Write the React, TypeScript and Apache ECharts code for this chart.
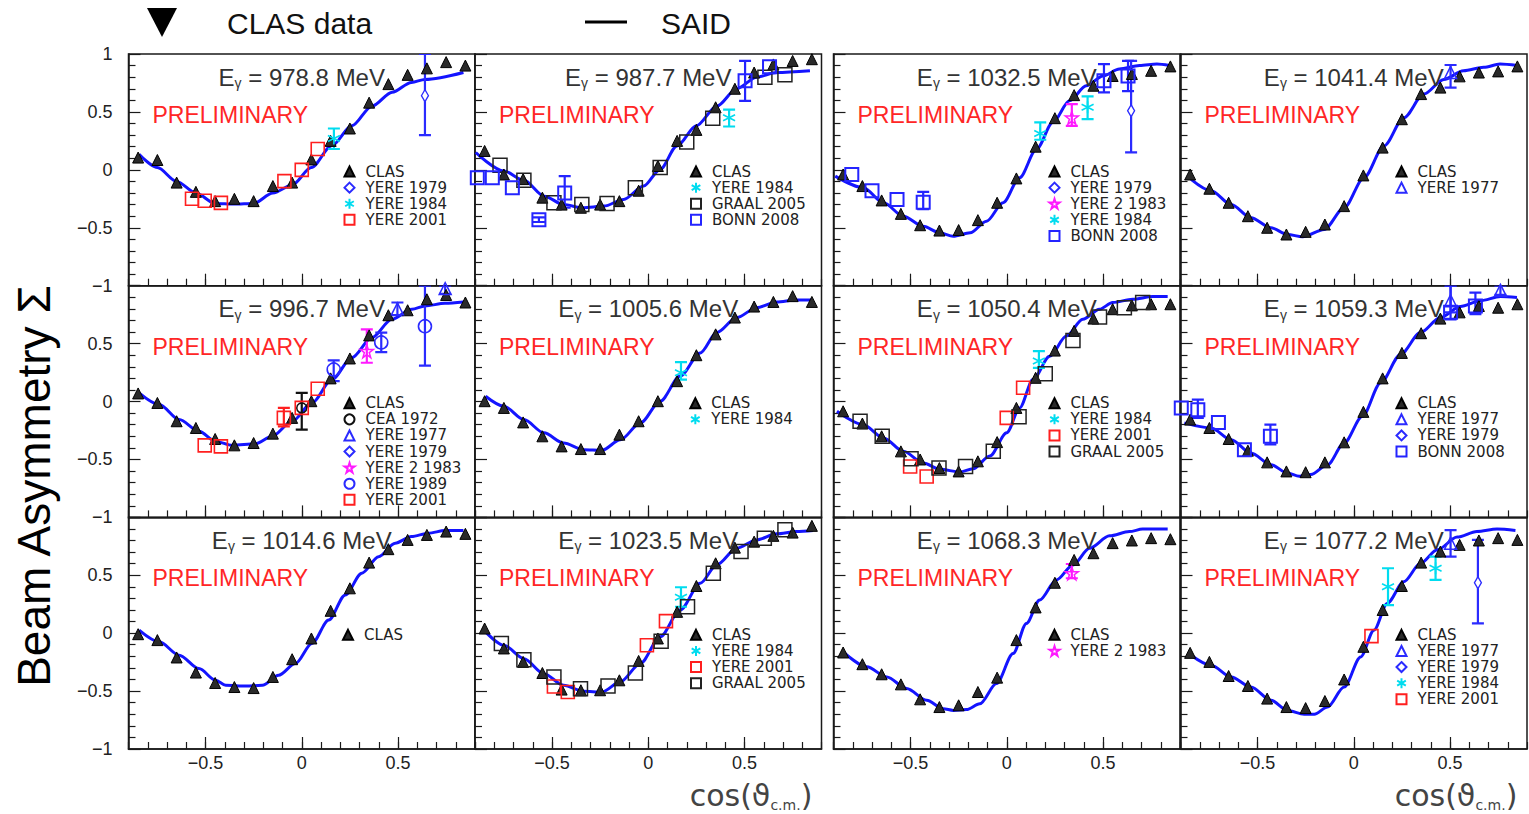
import React, { useEffect, useRef } from 'react';
import * as echarts from 'echarts';

// ---------- DATA ----------
const clasX = [-0.85, -0.75, -0.65, -0.55, -0.45, -0.35, -0.25, -0.15, -0.05, 0.05, 0.15, 0.25, 0.35, 0.45, 0.55, 0.65, 0.75, 0.85];
const majorX = [-0.5, 0, 0.5];

// CLAS beam asymmetry, one value per clasX
const clas978 = [0.106, 0.085, -0.11, -0.19, -0.27, -0.25, -0.27, -0.14, -0.11, 0.09, 0.25, 0.357, 0.58, 0.74, 0.82, 0.876, 0.93, 0.9];
const clas987 = [0.163, -0.04, -0.08, -0.24, -0.3, -0.327, -0.3, -0.27, -0.18, 0.033, 0.25, 0.345, 0.54, 0.7, 0.84, 0.91, 0.94, 0.955];
const clas1032 = [-0.04, -0.14, -0.264, -0.38, -0.478, -0.524, -0.52, -0.434, -0.284, -0.074, 0.2, 0.446, 0.645, 0.726, 0.81, 0.827, 0.855, 0.893];
const clas1041 = [-0.04, -0.163, -0.284, -0.4, -0.5, -0.558, -0.535, -0.472, -0.313, -0.048, 0.192, 0.437, 0.654, 0.71, 0.807, 0.84, 0.85, 0.893];
const clas996 = [0.07, -0.012, -0.17, -0.228, -0.323, -0.378, -0.358, -0.277, -0.141, 0.003, 0.2, 0.372, 0.571, 0.745, 0.788, 0.883, 0.92, 0.855];
const clas1005 = [0.003, -0.055, -0.18, -0.3, -0.387, -0.41, -0.41, -0.286, -0.17, 0.003, 0.176, 0.4, 0.58, 0.725, 0.82, 0.86, 0.91, 0.86];
const clas1050 = [-0.084, -0.19, -0.3, -0.43, -0.5, -0.574, -0.603, -0.516, -0.35, -0.055, 0.205, 0.44, 0.61, 0.716, 0.797, 0.83, 0.84, 0.84];
const clas1059 = [-0.156, -0.228, -0.323, -0.424, -0.525, -0.603, -0.61, -0.525, -0.352, -0.089, 0.2, 0.42, 0.59, 0.716, 0.77, 0.825, 0.81, 0.84];
const clas1014 = [-0.009, -0.06, -0.21, -0.34, -0.43, -0.465, -0.474, -0.378, -0.225, -0.046, 0.193, 0.387, 0.609, 0.725, 0.805, 0.848, 0.877, 0.857];
const clas1023 = [0.04, -0.132, -0.248, -0.344, -0.487, -0.493, -0.493, -0.407, -0.24, -0.046, 0.184, 0.407, 0.603, 0.738, 0.79, 0.84, 0.868, 0.926];
const clas1068 = [-0.167, -0.268, -0.355, -0.442, -0.571, -0.638, -0.623, -0.508, -0.384, -0.06, 0.222, 0.435, 0.632, 0.69, 0.777, 0.8, 0.82, 0.811];
const clas1077 = [-0.17, -0.248, -0.37, -0.456, -0.565, -0.638, -0.647, -0.586, -0.4, -0.118, 0.2, 0.407, 0.609, 0.704, 0.762, 0.8, 0.82, 0.805];

// SAID curves [cos, Sigma]
const said978 = [[-0.845, 0.134], [-0.75, 0.02], [-0.65, -0.1], [-0.55, -0.2], [-0.45, -0.29], [-0.35, -0.295], [-0.25, -0.29], [-0.15, -0.2], [-0.05, -0.13], [0.05, 0.02], [0.157, 0.21], [0.26, 0.38], [0.365, 0.55], [0.47, 0.67], [0.57, 0.755], [0.64, 0.78], [0.84, 0.84]];
const said987 = [[-0.896, 0.15], [-0.75, -0.01], [-0.646, -0.09], [-0.54, -0.227], [-0.44, -0.3], [-0.34, -0.327], [-0.23, -0.313], [-0.128, -0.255], [-0.024, -0.14], [0.062, 0.004], [0.149, 0.206], [0.25, 0.38], [0.356, 0.55], [0.46, 0.7], [0.563, 0.8], [0.666, 0.84], [0.84, 0.855]];
const said1032 = [[-0.891, -0.054], [-0.745, -0.154], [-0.64, -0.284], [-0.537, -0.4], [-0.434, -0.487], [-0.347, -0.544], [-0.278, -0.573], [-0.19, -0.544], [-0.105, -0.443], [-0.019, -0.284], [0.067, -0.068], [0.154, 0.177], [0.24, 0.41], [0.326, 0.596], [0.413, 0.726], [0.5, 0.81], [0.585, 0.87], [0.69, 0.9], [0.78, 0.913], [0.845, 0.9]];
const said1041 = [[-0.845, -0.082], [-0.741, -0.18], [-0.637, -0.3], [-0.534, -0.414], [-0.43, -0.5], [-0.344, -0.558], [-0.266, -0.578], [-0.154, -0.515], [-0.05, -0.327], [0.053, -0.068], [0.157, 0.206], [0.26, 0.45], [0.364, 0.654], [0.468, 0.78], [0.57, 0.855], [0.675, 0.885], [0.76, 0.913], [0.85, 0.9]];
const said996 = [[-0.845, 0.075], [-0.74, -0.026], [-0.637, -0.156], [-0.534, -0.257], [-0.447, -0.344], [-0.36, -0.378], [-0.24, -0.364], [-0.154, -0.3], [-0.05, -0.17], [0.053, -0.011], [0.157, 0.19], [0.26, 0.378], [0.365, 0.552], [0.468, 0.71], [0.572, 0.797], [0.64, 0.825], [0.744, 0.848], [0.84, 0.86]];
const said1005 = [[-0.845, 0.046], [-0.75, -0.04], [-0.646, -0.156], [-0.542, -0.27], [-0.44, -0.358], [-0.335, -0.415], [-0.24, -0.42], [-0.145, -0.33], [-0.041, -0.185], [0.062, 0.003], [0.166, 0.22], [0.27, 0.42], [0.356, 0.595], [0.46, 0.725], [0.563, 0.81], [0.666, 0.86], [0.77, 0.877], [0.85, 0.877]];
const said1050 = [[-0.882, -0.084], [-0.745, -0.2], [-0.64, -0.314], [-0.537, -0.43], [-0.434, -0.53], [-0.347, -0.584], [-0.244, -0.608], [-0.175, -0.58], [-0.088, -0.47], [0, -0.27], [0.067, -0.055], [0.136, 0.19], [0.223, 0.39], [0.31, 0.565], [0.395, 0.71], [0.482, 0.797], [0.55, 0.855], [0.654, 0.883], [0.758, 0.906], [0.836, 0.906]];
const said1059 = [[-0.88, -0.184], [-0.741, -0.228], [-0.637, -0.33], [-0.534, -0.444], [-0.43, -0.545], [-0.344, -0.617], [-0.283, -0.645], [-0.223, -0.63], [-0.136, -0.545], [-0.05, -0.358], [0.045, -0.127], [0.14, 0.162], [0.243, 0.407], [0.347, 0.595], [0.45, 0.725], [0.554, 0.82], [0.658, 0.87], [0.762, 0.906], [0.848, 0.898]];
const said1014 = [[-0.845, 0.026], [-0.74, -0.075], [-0.637, -0.19], [-0.534, -0.306], [-0.447, -0.407], [-0.395, -0.45], [-0.29, -0.456], [-0.205, -0.45], [-0.12, -0.364], [-0.033, -0.262], [0.053, -0.089], [0.14, 0.113], [0.226, 0.33], [0.312, 0.517], [0.399, 0.66], [0.485, 0.777], [0.57, 0.834], [0.658, 0.863], [0.744, 0.886], [0.84, 0.886]];
const said1023 = [[-0.845, 0.011], [-0.75, -0.104], [-0.646, -0.22], [-0.542, -0.35], [-0.44, -0.45], [-0.335, -0.502], [-0.24, -0.508], [-0.145, -0.42], [-0.041, -0.262], [0.062, -0.032], [0.166, 0.2], [0.27, 0.43], [0.356, 0.59], [0.46, 0.733], [0.563, 0.805], [0.666, 0.857], [0.77, 0.877], [0.856, 0.886]];
const said1068 = [[-0.839, -0.176], [-0.727, -0.29], [-0.623, -0.378], [-0.52, -0.478], [-0.416, -0.58], [-0.33, -0.652], [-0.278, -0.667], [-0.209, -0.66], [-0.14, -0.61], [-0.053, -0.435], [0.033, -0.176], [0.102, 0.084], [0.171, 0.286], [0.258, 0.459], [0.344, 0.589], [0.43, 0.733], [0.534, 0.84], [0.637, 0.877], [0.706, 0.898], [0.836, 0.898]];
const said1077 = [[-0.845, -0.19], [-0.741, -0.277], [-0.637, -0.378], [-0.534, -0.465], [-0.43, -0.58], [-0.344, -0.667], [-0.258, -0.7], [-0.205, -0.7], [-0.136, -0.638], [-0.05, -0.465], [0.036, -0.205], [0.105, 0.026], [0.174, 0.257], [0.26, 0.444], [0.347, 0.603], [0.434, 0.719], [0.537, 0.829], [0.64, 0.877], [0.744, 0.898], [0.84, 0.886]];

// Other experiments: [cos, Sigma] or [cos, Sigma, low, high]
const yere1979_978 = [[0.64, 0.64, 0.3, 1.0]];
const yere1984_978 = [[0.167, 0.27, 0.18, 0.357]];
const yere2001_978 = [[-0.57, -0.25], [-0.504, -0.267], [-0.42, -0.285], [-0.09, -0.097], [0.0, 0.0], [0.083, 0.18]];

const yere1984_987 = [[0.42, 0.45, 0.374, 0.52]];
const graal_987 = [[-0.77, 0.04], [-0.646, -0.09], [-0.49, -0.284], [-0.345, -0.3], [-0.214, -0.29], [-0.067, -0.154], [0.062, 0.02], [0.2, 0.24], [0.335, 0.446], [0.606, 0.8], [0.71, 0.82]];
const bonn_987 = [[-0.888, -0.068], [-0.81, -0.068], [-0.706, -0.154], [-0.568, -0.43, -0.45, -0.41], [-0.434, -0.2, -0.327, -0.054], [0.503, 0.77, 0.595, 0.94], [0.63, 0.89]];

const yere1979_1032 = [[0.646, 0.51, 0.15, 0.94]];
const yere2_1983_1032 = [[0.338, 0.45, 0.38, 0.567]];
const yere1984_1032 = [[0.174, 0.313, 0.26, 0.41], [0.42, 0.54, 0.437, 0.634]];
const bonn_1032 = [[-0.805, -0.04], [-0.7, -0.18], [-0.57, -0.255], [-0.434, -0.28, -0.34, -0.19], [0.505, 0.77, 0.668, 0.913], [0.63, 0.81, 0.68, 0.94]];

const yere1977_1041 = [[0.503, 0.84, 0.71, 0.905]];

const cea1972_996 = [[0.0, -0.055, -0.242, 0.075]];
const yere1977_996 = [[0.497, 0.8, 0.745, 0.855], [0.745, 0.975, 0.93, 1.0]];
const yere1979_996: number[][] = [];
const yere2_1983_996 = [[0.338, 0.435, 0.335, 0.623]];
const yere1989_996 = [[0.166, 0.277, 0.176, 0.355], [0.413, 0.51, 0.427, 0.595], [0.64, 0.65, 0.31, 1.0]];
const yere2001_996 = [[-0.504, -0.378], [-0.42, -0.387], [-0.093, -0.141, -0.214, -0.055], [0.0, -0.055], [0.083, 0.11]];

const yere1984_1005 = [[0.17, 0.248, 0.19, 0.34]];

const yere1984_1050 = [[0.167, 0.35, 0.29, 0.435]];
const yere2001_1050 = [[-0.502, -0.56], [-0.416, -0.647], [0.0, -0.141], [0.085, 0.119]];
const graal_1050 = [[-0.762, -0.17], [-0.647, -0.3], [-0.497, -0.493], [-0.352, -0.574], [-0.214, -0.56], [-0.07, -0.43], [0.064, -0.132], [0.2, 0.24], [0.344, 0.528], [0.482, 0.73], [0.611, 0.81], [0.706, 0.855]];

const yere1977_1059 = [[0.503, 0.87, 0.77, 1.0], [0.762, 0.96, 0.92, 1.0]];
const yere1979_1059: number[][] = [];
const bonn_1059 = [[-0.896, -0.055], [-0.81, -0.07, -0.141, 0.017], [-0.703, -0.18], [-0.568, -0.415], [-0.433, -0.3, -0.37, -0.2], [0.503, 0.77, 0.71, 1.0], [0.632, 0.825, 0.755, 0.94]];

const yere1984_1023 = [[0.17, 0.31, 0.228, 0.396]];
const yere2001_1023 = [[-0.49, -0.46], [-0.418, -0.508], [-0.007, -0.104], [0.092, 0.104]];
const graal_1023 = [[-0.763, -0.09], [-0.646, -0.23], [-0.49, -0.378], [-0.352, -0.479], [-0.209, -0.456], [-0.067, -0.344], [0.067, -0.069], [0.204, 0.228], [0.338, 0.517], [0.482, 0.704], [0.603, 0.82], [0.71, 0.892]];

const yere2_1983_1068 = [[0.338, 0.517, 0.474, 0.597]];

const yere1977_1077 = [[0.503, 0.777, 0.66, 0.89]];
const yere1979_1077 = [[0.645, 0.435, 0.084, 0.805]];
const yere1984_1077 = [[0.178, 0.4, 0.242, 0.56], [0.425, 0.56, 0.46, 0.66]];
const yere2001_1077 = [[0.092, -0.026]];

const energies = ['978.8', '987.7', '1032.5', '1041.4', '996.7', '1005.6', '1050.4', '1059.3', '1014.6', '1023.5', '1068.3', '1077.2'];
const clasSets = [clas978, clas987, clas1032, clas1041, clas996, clas1005, clas1050, clas1059, clas1014, clas1023, clas1068, clas1077];
const saidSets = [said978, said987, said1032, said1041, said996, said1005, said1050, said1059, said1014, said1023, said1068, said1077];
const otherSets: [string, number[][]][][] = [
  [['YERE 1979', yere1979_978], ['YERE 1984', yere1984_978], ['YERE 2001', yere2001_978]],
  [['YERE 1984', yere1984_987], ['GRAAL 2005', graal_987], ['BONN 2008', bonn_987]],
  [['YERE 1979', yere1979_1032], ['YERE 2 1983', yere2_1983_1032], ['YERE 1984', yere1984_1032], ['BONN 2008', bonn_1032]],
  [['YERE 1977', yere1977_1041]],
  [['CEA 1972', cea1972_996], ['YERE 1977', yere1977_996], ['YERE 1979', yere1979_996], ['YERE 2 1983', yere2_1983_996], ['YERE 1989', yere1989_996], ['YERE 2001', yere2001_996]],
  [['YERE 1984', yere1984_1005]],
  [['YERE 1984', yere1984_1050], ['YERE 2001', yere2001_1050], ['GRAAL 2005', graal_1050]],
  [['YERE 1977', yere1977_1059], ['YERE 1979', yere1979_1059], ['BONN 2008', bonn_1059]],
  [],
  [['YERE 1984', yere1984_1023], ['YERE 2001', yere2001_1023], ['GRAAL 2005', graal_1023]],
  [['YERE 2 1983', yere2_1983_1068]],
  [['YERE 1977', yere1977_1077], ['YERE 1979', yere1979_1077], ['YERE 1984', yere1984_1077], ['YERE 2001', yere2001_1077]],
];

// ---------- STYLE / LAYOUT ----------
const FONT = '"Liberation Sans", Arial, Helvetica, sans-serif';
const FONT2 = '"DejaVu Sans", Verdana, sans-serif';
const colLeft = [128.5, 475, 833.5, 1180.5];
const colWidth = 346.5;
const rowTop = [54, 285.7, 517.3];
const rowHeight = 231.7;
const AXIS = '#1a1a1a';
const BLUE = '#1414ff';

const ASTERISK = 'path://M5,0L5,10M0.67,2.5L9.33,7.5M0.67,7.5L9.33,2.5';
const STAR = 'path://M50,2L61,37L98,37L68,59L79,95L50,73L21,95L32,59L2,37L39,37Z';

const markerStyles: Record<string, { symbol: string; size: number | number[]; color: string; fill: string; bw: number }> = {
  'CLAS': { symbol: 'triangle', size: 11, color: '#000', fill: '#2a2a2a', bw: 1 },
  'YERE 1979': { symbol: 'diamond', size: [7, 12], color: '#2b2bff', fill: '#ffffff', bw: 1.4 },
  'YERE 1984': { symbol: ASTERISK, size: 12, color: '#00dcef', fill: 'none', bw: 1.6 },
  'YERE 2001': { symbol: 'rect', size: 13, color: '#ff1f1f', fill: 'none', bw: 1.6 },
  'GRAAL 2005': { symbol: 'rect', size: 14, color: '#222222', fill: 'none', bw: 1.5 },
  'BONN 2008': { symbol: 'rect', size: 13, color: '#2424ff', fill: 'none', bw: 2 },
  'CEA 1972': { symbol: 'circle', size: 10, color: '#111111', fill: 'none', bw: 1.5 },
  'YERE 1977': { symbol: 'triangle', size: 12, color: '#2b2bff', fill: 'none', bw: 1.5 },
  'YERE 2 1983': { symbol: STAR, size: 13, color: '#ff1aff', fill: 'none', bw: 1.5 },
  'YERE 1989': { symbol: 'circle', size: 13, color: '#2b2bff', fill: 'none', bw: 1.6 },
};

const minus = (v: number) => String(v).replace('-', '\u2212');

function errorSeries(name: string, color: string, data: number[][], xi: number, yi: number) {
  return {
    type: 'custom',
    name: name + ' err',
    xAxisIndex: xi,
    yAxisIndex: yi,
    clip: true,
    z: 3,
    data,
    encode: { x: 0, y: 1 },
    renderItem: (_p: any, api: any) => {
      const x = api.value(0);
      const a = api.coord([x, api.value(2)]);
      const b = api.coord([x, api.value(3)]);
      const w = 6;
      const style = { stroke: color, lineWidth: 2.2, fill: 'none' };
      return {
        type: 'group',
        children: [
          { type: 'line', shape: { x1: a[0], y1: a[1], x2: b[0], y2: b[1] }, style },
          { type: 'line', shape: { x1: a[0] - w, y1: a[1], x2: a[0] + w, y2: a[1] }, style },
          { type: 'line', shape: { x1: b[0] - w, y1: b[1], x2: b[0] + w, y2: b[1] }, style },
        ],
      };
    },
  };
}

function scatterSeries(name: string, data: number[][], xi: number, yi: number, z: number) {
  const st = markerStyles[name];
  return {
    type: 'scatter',
    name,
    xAxisIndex: xi,
    yAxisIndex: yi,
    symbol: st.symbol,
    symbolSize: st.size,
    z,
    data: data.map((d) => [d[0], d[1]]),
    itemStyle: { color: st.fill, borderColor: st.color, borderWidth: st.bw, opacity: 1 },
    emphasis: { disabled: true },
  };
}

function buildOption() {
  const grid: any[] = [];
  const xAxis: any[] = [];
  const yAxis: any[] = [];
  const series: any[] = [];
  const legend: any[] = [];
  const graphic: any[] = [];

  energies.forEach((energy, i) => {
    const row = Math.floor(i / 4);
    const col = i % 4;
    const left = colLeft[col];
    const top = rowTop[row];
    grid.push({
      left, top, width: colWidth, height: rowHeight,
      show: true, borderColor: AXIS, borderWidth: 1.5, backgroundColor: '#ffffff',
      containLabel: false, outerBoundsMode: 'none',
    });
    const tickLine = { color: AXIS, width: 1.2 };
    xAxis.push({
      gridIndex: i, type: 'value', position: 'bottom', min: -0.9, max: 0.9, interval: 0.1,
      axisLine: { show: true, onZero: false, lineStyle: { color: AXIS, width: 1.5 } },
      axisTick: { show: true, inside: true, length: 7, lineStyle: tickLine },
      axisLabel: { show: false },
      splitLine: { show: false },
    });
    xAxis.push({
      gridIndex: i, type: 'value', position: 'bottom', min: -0.9, max: 0.9,
      axisLine: { show: false, onZero: false },
      axisTick: { show: true, inside: true, length: 12, customValues: majorX, lineStyle: tickLine },
      axisLabel: {
        show: row === 2, customValues: majorX, formatter: (v: number) => minus(v),
        fontSize: 18, color: '#222', fontFamily: FONT, margin: 5,
      },
      splitLine: { show: false },
    });
    yAxis.push({
      gridIndex: i, type: 'value', min: -1, max: 1, interval: 0.5,
      axisLine: { show: true, onZero: false, lineStyle: { color: AXIS, width: 1.5 } },
      axisTick: { show: true, inside: true, length: 12, lineStyle: tickLine },
      minorTick: { show: true, splitNumber: 5, length: 7, lineStyle: tickLine },
      axisLabel: {
        show: col === 0,
        formatter: (v: number) => (row > 0 && v === 1 ? '' : minus(v)),
        fontSize: 18, color: '#222', fontFamily: FONT, margin: 16,
      },
      splitLine: { show: false },
      minorSplitLine: { show: false },
    });
    const xi = 2 * i;
    const yi = i;

    series.push({
      type: 'line', name: 'SAID', xAxisIndex: xi, yAxisIndex: yi, data: saidSets[i],
      showSymbol: false, symbol: 'none', smooth: 0.3, smoothMonotone: 'x', z: 2,
      lineStyle: { color: BLUE, width: 3 }, emphasis: { disabled: true }, clip: true,
    });
    series.push(scatterSeries('CLAS', clasX.map((x, k) => [x, clasSets[i][k]]), xi, yi, 4));
    otherSets[i].forEach(([name, data]) => {
      const withErr = data.filter((d) => d.length === 4);
      if (withErr.length) series.push(errorSeries(name, markerStyles[name].color, withErr, xi, yi));
      series.push(scatterSeries(name, data, xi, yi, 5));
    });

    legend.push({
      orient: 'vertical', left: left + 213.5, top: top + 109.5,
      itemWidth: 10, itemHeight: 10, itemGap: 0, padding: 0, selectedMode: false,
      data: ['CLAS', ...otherSets[i].map((s) => s[0])],
      textStyle: { fontFamily: FONT2, fontSize: 15, color: '#222', lineHeight: 16.1, padding: [0, 0, 0, 6] },
    });

    graphic.push({
      type: 'text', x: left + colWidth / 2, y: top + 23, z: 100,
      style: {
        text: '{a|E}{s|\u03b3}{a| = ' + energy + ' MeV}',
        rich: {
          a: { fontSize: 24, fontFamily: FONT, fill: '#333', lineHeight: 26 },
          s: { fontSize: 14, fontFamily: FONT, fill: '#333', lineHeight: 14, verticalAlign: 'bottom' },
        },
        align: 'center', verticalAlign: 'middle',
      },
    });
    graphic.push({
      type: 'text', x: left + 24, y: top + 61, z: 100,
      style: { text: 'PRELIMINARY', fontSize: 23, fontFamily: FONT, fill: '#ff2626', align: 'left', verticalAlign: 'middle' },
    });
  });

  // top legend
  graphic.push({ type: 'polygon', z: 100, shape: { points: [[147, 8], [177, 8], [162, 37]] }, style: { fill: '#000' } });
  graphic.push({ type: 'text', x: 227, y: 23, z: 100, style: { text: 'CLAS data', fontSize: 30, fontFamily: FONT, fill: '#111', verticalAlign: 'middle' } });
  graphic.push({ type: 'line', z: 100, shape: { x1: 585, y1: 22, x2: 627, y2: 22 }, style: { stroke: '#000', lineWidth: 3 } });
  graphic.push({ type: 'text', x: 661, y: 23, z: 100, style: { text: 'SAID', fontSize: 30, fontFamily: FONT, fill: '#111', verticalAlign: 'middle' } });

  // y title
  graphic.push({
    type: 'text', x: 34, y: 486, rotation: Math.PI / 2, z: 100,
    style: { text: 'Beam Asymmetry \u03a3', fontSize: 46, fontFamily: FONT, fill: '#000', align: 'center', verticalAlign: 'middle' },
  });
  // x titles
  [751, 1456].forEach((cx) => {
    graphic.push({
      type: 'text', x: cx, y: 795, z: 100,
      style: {
        text: '{a|cos(\u03d1}{s|c.m.}{a|)}',
        rich: {
          a: { fontSize: 30, fontFamily: FONT2, fill: '#444', lineHeight: 34 },
          s: { fontSize: 14, fontFamily: FONT2, fill: '#444', lineHeight: 16, verticalAlign: 'bottom' },
        },
        align: 'center', verticalAlign: 'middle',
      },
    });
  });

  return {
    animation: false,
    backgroundColor: '#ffffff',
    grid, xAxis, yAxis, series, legend, graphic,
  };
}

export default function App() {
  const ref = useRef<HTMLDivElement>(null);
  useEffect(() => {
    if (!ref.current) return;
    const chart = echarts.init(ref.current, null, { renderer: 'svg' });
    chart.setOption(buildOption() as any);
    return () => chart.dispose();
  }, []);
  return (
    <div
      ref={ref}
      style={{ position: 'fixed', left: 0, top: 0, width: 1529, height: 814, background: '#fff' }}
    />
  );
}
